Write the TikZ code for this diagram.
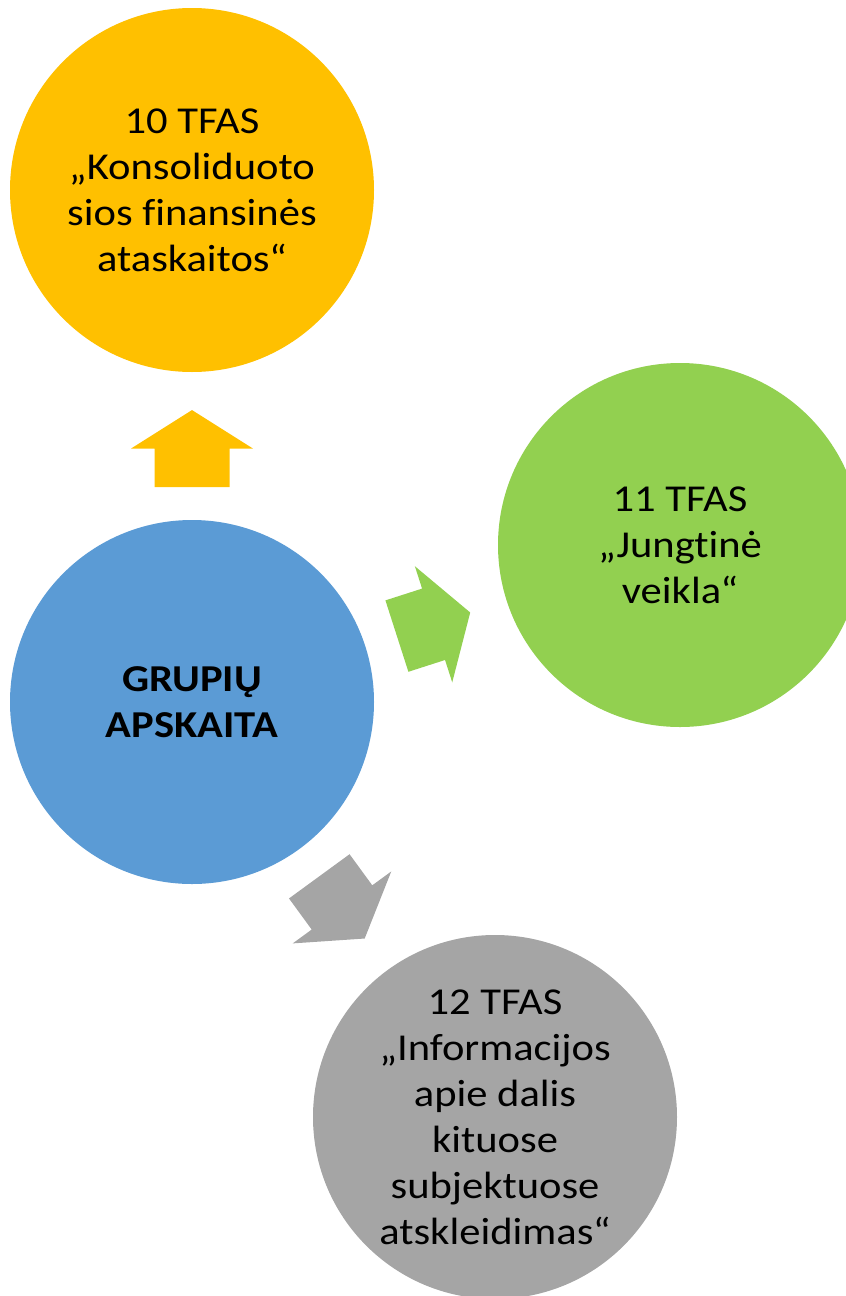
\documentclass[tikz,border=0pt]{standalone}
\usepackage{fontspec}
\setmainfont{Carlito}[FakeStretch=1.12,Ligatures=NoCommon]
\usepackage{tikz}
\usetikzlibrary{calc}

\definecolor{gold}{HTML}{FFC000}
\definecolor{leaf}{HTML}{92D050}
\definecolor{sky}{HTML}{5B9BD5}
\definecolor{ash}{HTML}{A5A5A5}

\tikzset{
  disc/.style={circle,minimum size=364pt,inner sep=0pt,align=center,
    font=\fontsize{38}{46}\selectfont},
  blockarrow/.pic={
    \fill (-38.5,-37.5) -- (0,-37.5) -- (0,-61) -- (38.5,0) -- (0,61)
      -- (0,37.5) -- (-38.5,37.5) -- cycle;
  }
}

\begin{document}
\begin{tikzpicture}[x=1pt,y=-1pt]
\useasboundingbox (0,0) rectangle (846,1296);
\clip (0,0) rectangle (846,1296);
\node[disc,fill=sky,font=\fontsize{38}{46}\selectfont\bfseries] (grupes) at (192,702) {GRUPIŲ\\APSKAITA};
\node[disc,fill=gold] (tfas10) at (192,190) {10 TFAS\\„Konsoliduoto\\sios finansinės\\ataskaitos“};
\node[disc,fill=leaf] (tfas11) at (680,545) {11 TFAS\\„Jungtinė\\veikla“};
\node[disc,fill=ash] (tfas12) at (495,1117) {12 TFAS\\„Informacijos\\apie dalis\\kituose\\subjektuose\\atskleidimas“};
% block arrows half way between the centres
\foreach \goal/\col in {tfas10/gold,tfas11/leaf,tfas12/ash}
  \path[fill=\col] let \p1=($(\goal)-(grupes)$), \n1={atan2(\y1,\x1)} in
    pic[rotate=\n1,fill=\col] at ($(grupes)!0.495!(\goal)$) {blockarrow};
\end{tikzpicture}
\end{document}
